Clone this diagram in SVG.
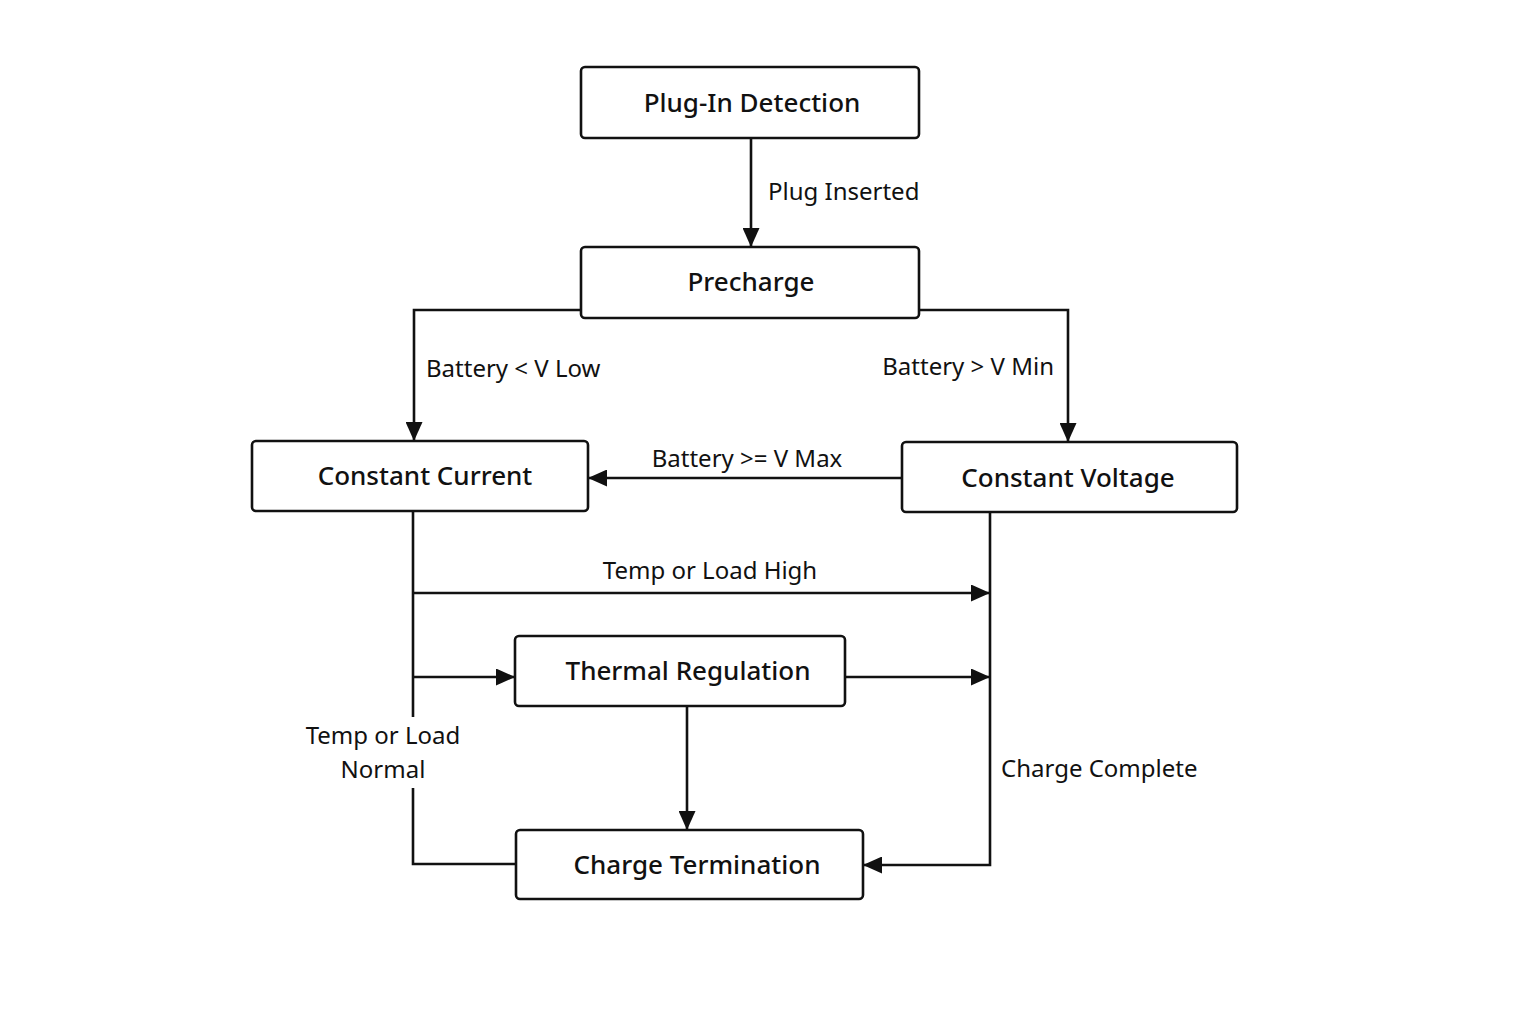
<svg xmlns="http://www.w3.org/2000/svg" width="1536" height="1024" viewBox="0 0 1536 1024">
<style>
.node rect{fill:#fff;stroke:#111;stroke-width:2.6}
.nt{font-family:"Noto Sans","DejaVu Sans",sans-serif;font-size:26px;font-weight:500;fill:#111;text-anchor:middle}
.lb{font-family:"Noto Sans","DejaVu Sans",sans-serif;font-size:24px;fill:#111}
.conn path{fill:none;stroke:#111;stroke-width:2.6}
</style>
<defs>
<marker id="ah" markerUnits="userSpaceOnUse" markerWidth="19" markerHeight="17" refX="18" refY="8.5" orient="auto">
<path d="M0,0 L19,8.5 L0,17 Z" fill="#111"/>
</marker>
</defs>
<rect width="1536" height="1024" fill="#fff"/>
<g class="conn">
<path d="M751,138 V246" marker-end="url(#ah)"/>
<path d="M581,310 H414 V440" marker-end="url(#ah)"/>
<path d="M919,310 H1068 V441" marker-end="url(#ah)"/>
<path d="M902,478 H589" marker-end="url(#ah)"/>
<path d="M413,511 V717 M413,788 V864 H516"/>
<path d="M413,593 H989" marker-end="url(#ah)"/>
<path d="M413,677 H514" marker-end="url(#ah)"/>
<path d="M845,677 H989" marker-end="url(#ah)"/>
<path d="M687,706 V829" marker-end="url(#ah)"/>
<path d="M990,512 V865 H864" marker-end="url(#ah)"/>
</g>
<g class="labels">
<text class="lb" x="768" y="200">Plug Inserted</text>
<text class="lb" x="426" y="377">Battery &lt; V Low</text>
<text class="lb" x="1054" y="375" text-anchor="end">Battery &gt; V Min</text>
<text class="lb" x="747" y="467" text-anchor="middle">Battery &gt;= V Max</text>
<text class="lb" x="710" y="579" text-anchor="middle">Temp or Load High</text>
<text class="lb" x="383" y="744" text-anchor="middle">Temp or Load</text>
<text class="lb" x="383" y="778" text-anchor="middle">Normal</text>
<text class="lb" x="1001" y="777">Charge Complete</text>
</g>
<g class="node" id="plugin"><rect x="581" y="67" width="338" height="71" rx="4"/><text class="nt" x="752" y="112">Plug-In Detection</text></g>
<g class="node" id="precharge"><rect x="581" y="247" width="338" height="71" rx="4"/><text class="nt" x="751" y="291">Precharge</text></g>
<g class="node" id="cc"><rect x="252" y="441" width="336" height="70" rx="4"/><text class="nt" x="425" y="485">Constant Current</text></g>
<g class="node" id="cv"><rect x="902" y="442" width="335" height="70" rx="4"/><text class="nt" x="1068" y="487">Constant Voltage</text></g>
<g class="node" id="thermal"><rect x="515" y="636" width="330" height="70" rx="4"/><text class="nt" x="688" y="680">Thermal Regulation</text></g>
<g class="node" id="term"><rect x="516" y="830" width="347" height="69" rx="4"/><text class="nt" x="697" y="874">Charge Termination</text></g>
</svg>
